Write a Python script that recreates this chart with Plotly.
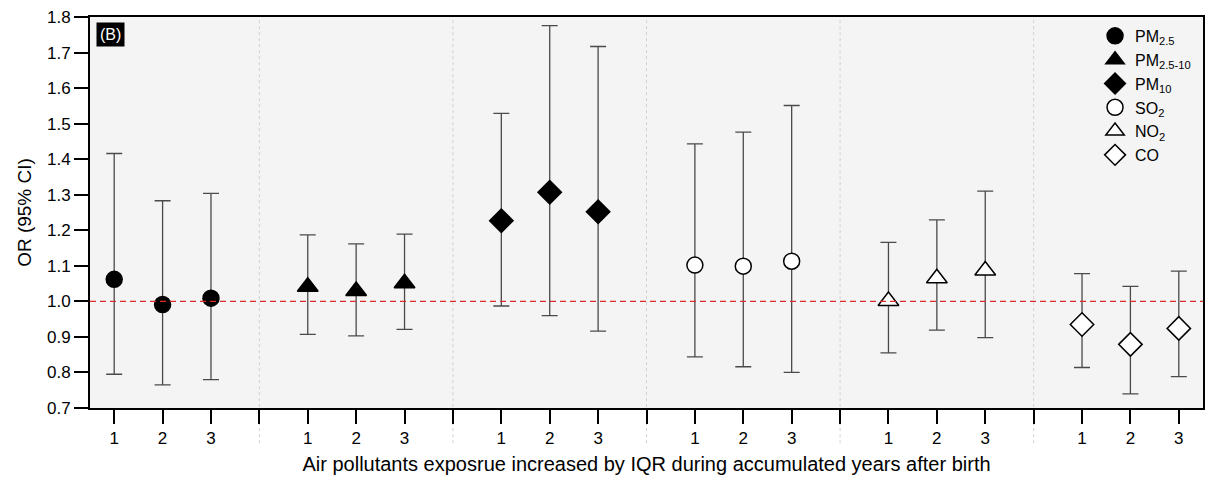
import plotly.graph_objects as go

# ---- data ----
years = [1, 2, 3]
year_labels = ["1", "2", "3"]
pollutants = ["PM<sub>2.5</sub>", "PM<sub>2.5-10</sub>", "PM<sub>10</sub>",
              "SO<sub>2</sub>", "NO<sub>2</sub>", "CO"]

or_pm25 = [1.062, 0.991, 1.009]
lo_pm25 = [0.795, 0.765, 0.780]
hi_pm25 = [1.416, 1.283, 1.304]

or_pm2510 = [1.041, 1.029, 1.051]
lo_pm2510 = [0.907, 0.903, 0.921]
hi_pm2510 = [1.187, 1.162, 1.189]

or_pm10 = [1.227, 1.307, 1.252]
lo_pm10 = [0.987, 0.960, 0.916]
hi_pm10 = [1.529, 1.776, 1.717]

or_so2 = [1.102, 1.099, 1.113]
lo_so2 = [0.844, 0.816, 0.800]
hi_so2 = [1.443, 1.476, 1.551]

or_no2 = [1.001, 1.065, 1.087]
lo_no2 = [0.855, 0.919, 0.898]
hi_no2 = [1.166, 1.229, 1.310]

or_co = [0.935, 0.879, 0.924]
lo_co = [0.814, 0.740, 0.788]
hi_co = [1.078, 1.042, 1.085]

reference_or = 1.0

series_or = [or_pm25, or_pm2510, or_pm10, or_so2, or_no2, or_co]
series_lo = [lo_pm25, lo_pm2510, lo_pm10, lo_so2, lo_no2, lo_co]
series_hi = [hi_pm25, hi_pm2510, hi_pm10, hi_so2, hi_no2, hi_co]

# ---- styles ----
symbols = ["circle", "triangle-up", "diamond", "circle", "triangle-up", "diamond"]
sizes = [16, 18, 18, 16, 18, 18]
fills = ["black", "black", "black", "white", "white", "white"]
FONT = "Liberation Sans, Arial, sans-serif"

group_step = len(years) + 1

fig = go.Figure()
tickvals, ticktext, sep_vals = [], [], []
for g, name in enumerate(pollutants):
    xs = [g * group_step + y for y in years]
    tickvals += xs
    ticktext += year_labels
    if g > 0:
        sep_vals.append(g * group_step)
    orv, lo, hi = series_or[g], series_lo[g], series_hi[g]
    fig.add_trace(go.Scatter(
        x=xs, y=orv, mode="markers", name=name,
        marker=dict(symbol=symbols[g], size=sizes[g], color=fills[g],
                    line=dict(color="black", width=1.5)),
        error_y=dict(type="data", symmetric=False,
                     array=[h - o for h, o in zip(hi, orv)],
                     arrayminus=[o - l for o, l in zip(orv, lo)],
                     color="#4a4a4a", thickness=1.3, width=8),
    ))

# separators (dotted) between groups
for s in sep_vals:
    fig.add_shape(type="line", xref="x", yref="paper",
                  x0=s, x1=s, y0=-0.09, y1=1,
                  line=dict(color="#d0d0d0", width=1, dash="dot"), layer="below")

# reference line
fig.add_shape(type="line", xref="paper", yref="y", x0=0, x1=1,
              y0=reference_or, y1=reference_or,
              line=dict(color="#dd2a2a", width=1.2, dash="6px,4px"))

fig.add_annotation(text="(B)", xref="paper", yref="paper", x=0.005, y=0.988,
                   xanchor="left", yanchor="top", showarrow=False,
                   font=dict(family=FONT, size=16, color="white"),
                   bgcolor="black", borderpad=3)

fig.update_layout(
    width=1208, height=484,
    margin=dict(l=90, r=3, t=17, b=76),
    paper_bgcolor="white", plot_bgcolor="#f4f4f4",
    font=dict(family=FONT, size=16, color="black"),
    showlegend=True,
    legend=dict(x=0.903, y=0.995, xanchor="left", yanchor="top",
                bgcolor="rgba(0,0,0,0)", font=dict(size=16),
                tracegroupgap=0, itemsizing="trace"),
)
fig.update_xaxes(
    range=[0.5, len(pollutants) * group_step - 0.5],
    tickmode="array", tickvals=tickvals, ticktext=ticktext,
    ticks="outside", ticklen=14, tickwidth=2, tickcolor="black",
    minor=dict(tickmode="array", tickvals=sep_vals, ticks="outside",
               ticklen=14, tickwidth=2, tickcolor="black", showgrid=False),
    showline=True, linewidth=2, linecolor="black", mirror=True,
    showgrid=False, zeroline=False,
    tickfont=dict(size=17),
    title=dict(text="Air pollutants exposrue increased by IQR during accumulated years after birth",
               font=dict(size=20), standoff=10),
)
fig.update_yaxes(
    range=[0.7, 1.8], dtick=0.1, tickformat=".1f",
    ticks="outside", ticklen=14, tickwidth=2, tickcolor="black",
    showline=True, linewidth=2, linecolor="black", mirror=True,
    showgrid=False, zeroline=False,
    tickfont=dict(size=17),
    title=dict(text="OR (95% CI)", font=dict(size=19), standoff=10),
)

fig.write_html("out.html")
